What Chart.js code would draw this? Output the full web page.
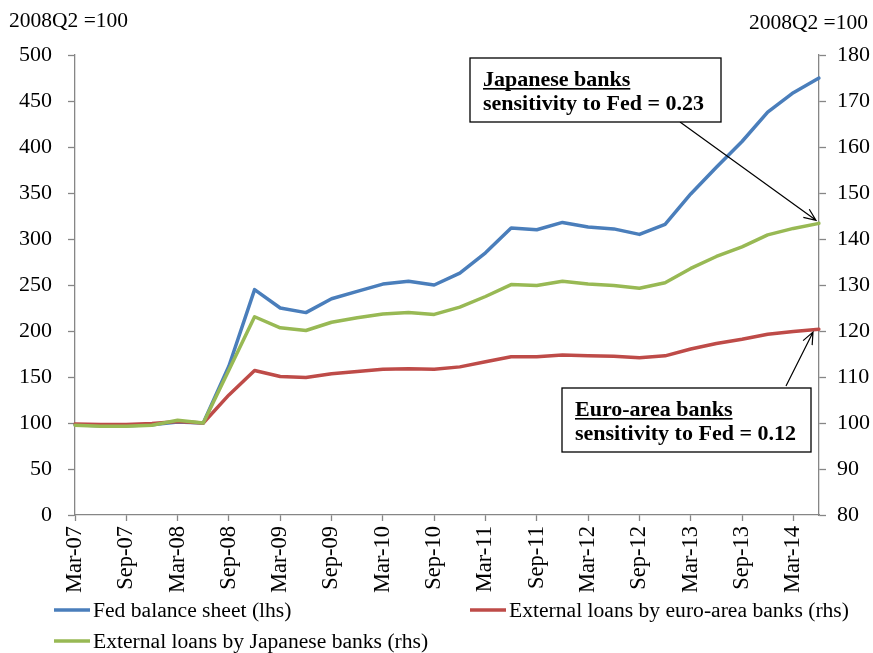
<!DOCTYPE html>
<html>
<head>
<meta charset="utf-8">
<script src="https://cdn.jsdelivr.net/npm/chart.js@4"></script>
<style>
  html, body { margin: 0; padding: 0; background: #fff; }
  #wrap { width: 873px; height: 653px; position: relative; }
</style>
</head>
<body>
<div id="wrap"><canvas id="fedChart"></canvas></div>
<script>
const quarters = ['Mar-07','Jun-07','Sep-07','Dec-07','Mar-08','Jun-08','Sep-08','Dec-08',
  'Mar-09','Jun-09','Sep-09','Dec-09','Mar-10','Jun-10','Sep-10','Dec-10',
  'Mar-11','Jun-11','Sep-11','Dec-11','Mar-12','Jun-12','Sep-12','Dec-12',
  'Mar-13','Jun-13','Sep-13','Dec-13','Mar-14','Jun-14'];

// Fed balance sheet, lhs
const fedSheet = [98, 97, 97, 98, 101, 100, 162, 245, 225, 220, 235, 243, 251, 254, 250, 263,
  285, 312, 310, 318, 313, 311, 305, 316, 349, 378, 406, 438, 459, 475];
// euro-area banks, rhs
const euroLoans = [99.8, 99.7, 99.7, 99.9, 100.3, 100, 106.1, 111.4, 110.1, 109.9, 110.7, 111.2,
  111.7, 111.8, 111.7, 112.2, 113.3, 114.4, 114.4, 114.8, 114.6, 114.5, 114.2, 114.6,
  116.1, 117.3, 118.2, 119.3, 119.9, 120.4];
// Japanese banks, rhs
const japanLoans = [99.5, 99.3, 99.3, 99.5, 100.6, 100, 111.5, 123.1, 120.7, 120.1, 121.9, 122.9,
  123.7, 124.0, 123.6, 125.2, 127.5, 130.1, 129.9, 130.8, 130.2, 129.9, 129.3, 130.5,
  133.6, 136.2, 138.3, 140.9, 142.3, 143.4];

const seriesNames = ['Fed balance sheet (lhs)', 'External loans by euro-area banks (rhs)', 'External loans by Japanese banks (rhs)'];
const axisTitle = '2008Q2 =100';

const serif = "'Times New Roman', 'Liberation Serif', serif";
const axisGrey = '#868686';

function drawArrow(ctx, x1, y1, x2, y2) {
    const ang = Math.atan2(y2 - y1, x2 - x1);
    const len = 13, spread = 0.4;
    ctx.beginPath();
    ctx.moveTo(x1, y1);
    ctx.lineTo(x2, y2);
    ctx.moveTo(x2 - len * Math.cos(ang - spread), y2 - len * Math.sin(ang - spread));
    ctx.lineTo(x2, y2);
    ctx.lineTo(x2 - len * Math.cos(ang + spread), y2 - len * Math.sin(ang + spread));
    ctx.stroke();
}

function drawNote(ctx, box, head, rest) {
    ctx.fillStyle = '#fff';
    ctx.fillRect(box.x, box.y, box.w, box.h);
    ctx.strokeStyle = '#000';
    ctx.lineWidth = 1.3;
    ctx.strokeRect(box.x, box.y, box.w, box.h);
    ctx.fillStyle = '#000';
    ctx.font = 'bold 22px ' + serif;
    ctx.textAlign = 'left';
    ctx.textBaseline = 'alphabetic';
    const tx = box.x + 13;
    ctx.fillText(head, tx, box.y + 28);
    const w = ctx.measureText(head).width;
    ctx.fillRect(tx, box.y + 30, w, 1.6);
    ctx.fillText(rest, tx, box.y + 52);
}

const extras = {
  id: 'fedExtras',
  afterDraw: (chart) => {
    const {ctx} = chart;
    const x = chart.scales.x, yR = chart.scales.y1;
    const last = quarters.length - 1;
    ctx.save();

    // unit labels above both axes
    ctx.fillStyle = '#000';
    ctx.font = '21.5px ' + serif;
    ctx.textBaseline = 'alphabetic';
    ctx.textAlign = 'left';
    ctx.fillText(axisTitle, 9, 27);
    ctx.textAlign = 'right';
    ctx.fillText(axisTitle, 868, 29);

    // annotations with arrows to the last points
    ctx.strokeStyle = '#000';
    ctx.lineWidth = 1.2;
    const gx = x.getPixelForValue(last), gy = yR.getPixelForValue(japanLoans[last]);
    drawArrow(ctx, 680, 122, gx - 3, gy - 3);
    const rx = x.getPixelForValue(last), ry = yR.getPixelForValue(euroLoans[last]);
    drawArrow(ctx, 786, 386, rx - 6, ry + 3);
    drawNote(ctx, {x: 470, y: 58, w: 251, h: 64}, 'Japanese banks', 'sensitivity to Fed = 0.23');
    drawNote(ctx, {x: 562, y: 388, w: 249, h: 64}, 'Euro-area banks', 'sensitivity to Fed = 0.12');

    // legend, two columns
    const spots = [[54, 610], [470, 610], [54, 641]];
    ctx.font = '21.6px ' + serif;
    ctx.textAlign = 'left';
    ctx.textBaseline = 'middle';
    chart.data.datasets.forEach((ds, i) => {
        const [lx, ly] = spots[i];
        ctx.strokeStyle = ds.borderColor;
        ctx.lineWidth = 3.5;
        ctx.beginPath();
        ctx.moveTo(lx, ly);
        ctx.lineTo(lx + 36, ly);
        ctx.stroke();
        ctx.fillStyle = '#000';
        ctx.fillText(ds.label, lx + 39, ly + 1);
    });
    ctx.restore();
  }
};

function createFedChart() {
    const canvas = document.querySelector('#fedChart');

    const config = {
      type: 'line',
      data: {
          labels: quarters,
          datasets: [{
              label: seriesNames[0],
              data: fedSheet,
              yAxisID: 'y',
              borderColor: '#4A7EBB',
              order: 2
          }, {
              label: seriesNames[1],
              data: euroLoans,
              yAxisID: 'y1',
              borderColor: '#BE4B48',
              order: 1
          }, {
              label: seriesNames[2],
              data: japanLoans,
              yAxisID: 'y1',
              borderColor: '#98B954',
              order: 0
          }]
      },
      options: {
        responsive: true,
        maintainAspectRatio: false,
        animation: false,
        layout: { padding: { top: 55, bottom: 58, left: 0, right: 0 } },
        elements: {
          line: { borderWidth: 3.5, tension: 0, borderJoinStyle: 'round', borderCapStyle: 'round' },
          point: { radius: 0 }
        },
        plugins: {
          legend: { display: false },
          tooltip: { enabled: false }
        },
        scales: {
          x: {
            offset: false,
            border: { color: axisGrey, width: 1.3 },
            grid: {
              drawOnChartArea: false,
              tickLength: 6,
              tickWidth: 1.3,
              tickColor: (c) => (c.index % 2 === 0 ? axisGrey : 'rgba(0,0,0,0)')
            },
            ticks: {
              autoSkip: false,
              maxRotation: 90,
              minRotation: 90,
              padding: 5,
              color: '#000',
              font: { family: serif, size: 22.5 },
              callback: (v, i) => (i % 2 === 0 ? quarters[i] : '')
            },
            afterFit: (s) => { s.height = 80; }
          },
          y: {
            position: 'left',
            min: 0,
            max: 500,
            border: { color: axisGrey, width: 1.3 },
            grid: { drawOnChartArea: false, tickLength: 7, tickWidth: 1.3, tickColor: axisGrey },
            ticks: { stepSize: 50, padding: 16, color: '#000', font: { family: serif, size: 22 } },
            afterFit: (s) => { s.width = 75; }
          },
          y1: {
            position: 'right',
            min: 80,
            max: 180,
            border: { color: axisGrey, width: 1.3 },
            grid: { drawOnChartArea: false, tickLength: 7, tickWidth: 1.3, tickColor: axisGrey },
            ticks: { stepSize: 10, padding: 11, color: '#000', font: { family: serif, size: 22 } },
            afterFit: (s) => { s.width = 54; }
          }
        }
      },
      plugins: [extras]
    };

    new Chart(canvas, config);
}

createFedChart();
</script>
</body>
</html>
